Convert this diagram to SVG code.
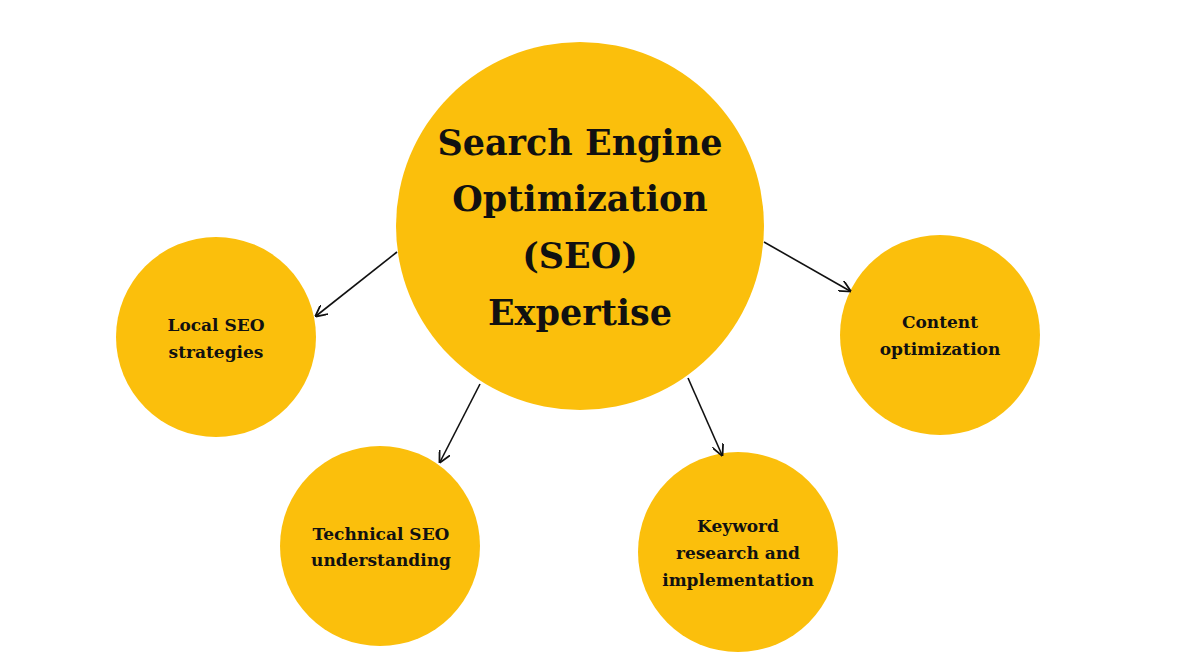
<svg xmlns="http://www.w3.org/2000/svg" width="1200" height="670" viewBox="0 0 1200 670">
<style>
.c{fill:#FBBF0C}
.t{font-family:"DejaVu Serif","Liberation Serif",serif;font-weight:bold;fill:#111;text-anchor:middle}
.s{font-size:17px}
.b{font-size:35px}
.l{stroke:#111;stroke-width:1.6;fill:none;marker-end:url(#a)}
</style>
<defs><marker id="a" viewBox="0 0 10 10" refX="9" refY="5" markerWidth="12" markerHeight="12" markerUnits="userSpaceOnUse" orient="auto"><path d="M0,0 L10,5 L0,10" fill="none" stroke="#111" stroke-width="1.5"/></marker></defs>
<rect width="1200" height="670" fill="#fff"/>
<g id="main"><circle class="c" cx="580" cy="226" r="184"/>
<text class="t b" x="580" y="155">Search Engine</text>
<text class="t b" x="580" y="211">Optimization</text>
<text class="t b" x="580" y="268">(SEO)</text>
<text class="t b" x="580" y="325">Expertise</text></g>
<g id="local"><circle class="c" cx="216" cy="337" r="100"/>
<text class="t s" x="216" y="331">Local SEO</text><text class="t s" x="216" y="358">strategies</text></g>
<g id="content"><circle class="c" cx="940" cy="335" r="100"/>
<text class="t s" x="940" y="328">Content</text><text class="t s" x="940" y="355">optimization</text></g>
<g id="technical"><circle class="c" cx="380" cy="546" r="100"/>
<text class="t s" x="381" y="540">Technical SEO</text><text class="t s" x="381" y="566">understanding</text></g>
<g id="keyword"><circle class="c" cx="738" cy="552" r="100"/>
<text class="t s" x="738" y="532">Keyword</text><text class="t s" x="738" y="559">research and</text><text class="t s" x="738" y="586">implementation</text></g>
<g id="connectors">
<line class="l" x1="397" y1="252" x2="316" y2="316"/>
<line class="l" x1="764" y1="242" x2="850" y2="291"/>
<line class="l" x1="480" y1="384" x2="440" y2="462"/>
<line class="l" x1="688" y1="378" x2="722" y2="455"/>
</g>
</svg>
